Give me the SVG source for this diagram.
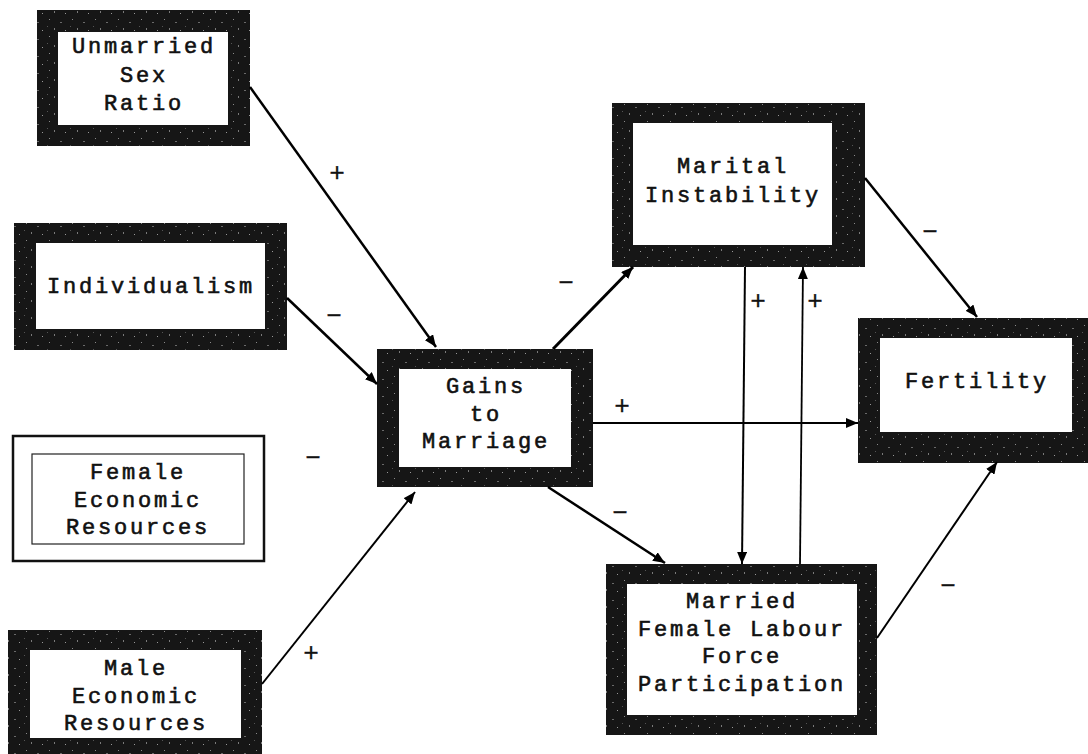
<svg xmlns="http://www.w3.org/2000/svg" width="1088" height="754" viewBox="0 0 1088 754">
  <defs>
    <pattern id="speck" width="23" height="17" patternUnits="userSpaceOnUse">
      <rect width="23" height="17" fill="#161616"/>
      <rect x="3" y="2" width="1" height="1" fill="#8a8a8a"/>
      <rect x="14" y="5" width="2" height="1" fill="#6a6a6a"/>
      <rect x="8" y="11" width="1" height="2" fill="#7a7a7a"/>
      <rect x="19" y="13" width="1" height="1" fill="#999"/>
      <rect x="1" y="9" width="1" height="1" fill="#555"/>
    </pattern>
    <marker id="arr" viewBox="0 0 12 10" refX="12" refY="5" markerWidth="12" markerHeight="10" markerUnits="userSpaceOnUse" orient="auto">
      <path d="M0,0 L12,5 L0,10 Z" fill="#000"/>
    </marker>
  </defs>
  <style>
    .frame { fill: url(#speck); }
    .inner { fill: #ffffff; }
    .lbl { font-family: "Liberation Mono", "Courier New", monospace; font-size: 22px; letter-spacing: 2.8px; fill: #111; stroke: #111; stroke-width: 0.6; text-anchor: middle; }
    .sign { font-family: "Liberation Mono", "Courier New", monospace; font-size: 26px; fill: #111; stroke: #111; stroke-width: 0.3; text-anchor: middle; }
    .c { fill: none; stroke: #000; marker-end: url(#arr); }
  </style>
  <rect width="1088" height="754" fill="#ffffff"/>

  <g id="unmarried-sex-ratio">
    <rect class="frame" x="37" y="10" width="213" height="136"/>
    <rect class="inner" x="58" y="32" width="170" height="93"/>
    <text class="lbl" x="144" y="53">Unmarried</text>
    <text class="lbl" x="144" y="82">Sex</text>
    <text class="lbl" x="144" y="110">Ratio</text>
  </g>

  <g id="individualism">
    <rect class="frame" x="14" y="223" width="273" height="127"/>
    <rect class="inner" x="36" y="243" width="229" height="86"/>
    <text class="lbl" x="151" y="293">Individualism</text>
  </g>

  <g id="female-economic-resources">
    <rect x="13" y="436" width="251" height="125" fill="#fff" stroke="#111" stroke-width="2.5"/>
    <rect x="32" y="454" width="212" height="90" fill="none" stroke="#222" stroke-width="1.2"/>
    <text class="lbl" x="138" y="479">Female</text>
    <text class="lbl" x="138" y="507">Economic</text>
    <text class="lbl" x="138" y="534">Resources</text>
  </g>

  <g id="male-economic-resources">
    <rect class="frame" x="8" y="630" width="254" height="126"/>
    <rect class="inner" x="30" y="650" width="211" height="88"/>
    <text class="lbl" x="136" y="675">Male</text>
    <text class="lbl" x="136" y="703">Economic</text>
    <text class="lbl" x="136" y="730">Resources</text>
  </g>

  <g id="gains-to-marriage">
    <rect class="frame" x="377" y="349" width="216" height="138"/>
    <rect class="inner" x="399" y="369" width="172" height="98"/>
    <text class="lbl" x="486" y="393">Gains</text>
    <text class="lbl" x="486" y="421">to</text>
    <text class="lbl" x="486" y="448">Marriage</text>
  </g>

  <g id="marital-instability">
    <rect class="frame" x="612" y="103" width="253" height="164"/>
    <rect class="inner" x="633" y="123" width="199" height="122"/>
    <text class="lbl" x="733" y="173">Marital</text>
    <text class="lbl" x="733" y="202">Instability</text>
  </g>

  <g id="fertility">
    <rect class="frame" x="858" y="318" width="232" height="145"/>
    <rect class="inner" x="880" y="338" width="192" height="94"/>
    <text class="lbl" x="977" y="388">Fertility</text>
  </g>

  <g id="married-female-lfp">
    <rect class="frame" x="606" y="564" width="271" height="171"/>
    <rect class="inner" x="627" y="584" width="230" height="131"/>
    <text class="lbl" x="742" y="608">Married</text>
    <text class="lbl" x="742" y="636">Female Labour</text>
    <text class="lbl" x="742" y="663">Force</text>
    <text class="lbl" x="742" y="691">Participation</text>
  </g>

  <g id="connectors">
    <path class="c" d="M250,87 L436,347" stroke-width="2.5"/>
    <path class="c" d="M287,298 L377,384" stroke-width="2.5"/>
    <path class="c" d="M262,684 L415,492" stroke-width="2"/>
    <path class="c" d="M553,349 L633,267" stroke-width="3"/>
    <path class="c" d="M593,423 L858,423" stroke-width="1.8"/>
    <path class="c" d="M548,487 L665,563" stroke-width="2.5"/>
    <path class="c" d="M745,267 L742,564" stroke-width="2"/>
    <path class="c" d="M800,564 L803,267" stroke-width="1.8"/>
    <path class="c" d="M865,178 L977,317" stroke-width="2.5"/>
    <path class="c" d="M877,638 L997,462" stroke-width="2"/>
  </g>

  <g id="signs">
    <text class="sign" x="337" y="181">+</text>
    <text class="sign" x="334" y="324">−</text>
    <text class="sign" x="313" y="466">−</text>
    <text class="sign" x="311" y="661">+</text>
    <text class="sign" x="566" y="291">−</text>
    <text class="sign" x="622" y="414">+</text>
    <text class="sign" x="620" y="521">−</text>
    <text class="sign" x="758" y="309">+</text>
    <text class="sign" x="815" y="309">+</text>
    <text class="sign" x="930" y="240">−</text>
    <text class="sign" x="948" y="594">−</text>
  </g>
</svg>
